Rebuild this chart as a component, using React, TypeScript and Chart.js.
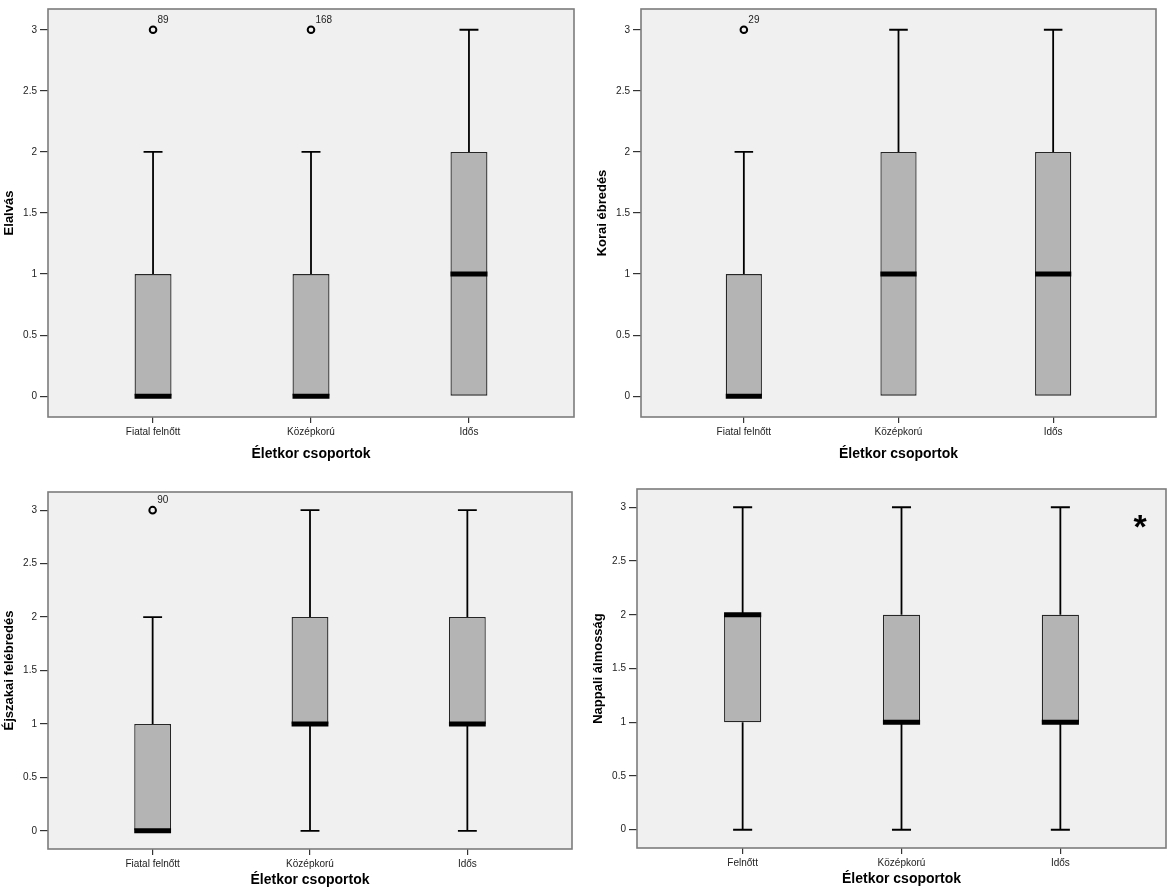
import React, { useEffect, useRef } from "react";
import { Chart, registerables } from "chart.js";

Chart.register(...registerables);

const FONT = "'Liberation Sans', Arial, Helvetica, sans-serif";

// ---------- DATA ----------
const groupsYoung = ["Fiatal felnőtt", "Középkorú", "Idős"];
const groupsAdult = ["Felnőtt", "Középkorú", "Idős"];
const xAxisTitle = "Életkor csoportok";
const yTickValues = [0, 0.5, 1, 1.5, 2, 2.5, 3];

// Elalvás
const elalvasMin = [0, 0, 0];
const elalvasQ1 = [0, 0, 0];
const elalvasMedian = [0, 0, 1];
const elalvasQ3 = [1, 1, 2];
const elalvasMax = [2, 2, 3];
const elalvasOutlierGroup = [0, 1];
const elalvasOutlierValue = [3, 3];
const elalvasOutlierId = ["89", "168"];

// Korai ébredés
const koraiMin = [0, 0, 0];
const koraiQ1 = [0, 0, 0];
const koraiMedian = [0, 1, 1];
const koraiQ3 = [1, 2, 2];
const koraiMax = [2, 3, 3];
const koraiOutlierGroup = [0];
const koraiOutlierValue = [3];
const koraiOutlierId = ["29"];

// Éjszakai felébredés
const ejszakaiMin = [0, 0, 0];
const ejszakaiQ1 = [0, 1, 1];
const ejszakaiMedian = [0, 1, 1];
const ejszakaiQ3 = [1, 2, 2];
const ejszakaiMax = [2, 3, 3];
const ejszakaiOutlierGroup = [0];
const ejszakaiOutlierValue = [3];
const ejszakaiOutlierId = ["90"];

// Nappali álmosság
const nappaliMin = [0, 0, 0];
const nappaliQ1 = [1, 1, 1];
const nappaliMedian = [2, 1, 1];
const nappaliQ3 = [2, 2, 2];
const nappaliMax = [3, 3, 3];
const nappaliOutlierGroup: number[] = [];
const nappaliOutlierValue: number[] = [];
const nappaliOutlierId: string[] = [];

// ---------- STYLE / LAYOUT ----------
const BOX_HALF = 0.117;
const CAP_HALF = 0.06;
const X_PAD = 0.665;
const Y_MIN = -0.17;
const Y_MAX = 3.17;

type Stats = {
  min: number[];
  q1: number[];
  median: number[];
  q3: number[];
  max: number[];
  outGroup: number[];
  outValue: number[];
  outId: string[];
};

type Panel = {
  title: string;
  groups: string[];
  stats: Stats;
  left: number;
  top: number;
  width: number;
  height: number;
  xAxisHeight: number;
  asterisk?: boolean;
};

const panels: Panel[] = [
  {
    title: "Elalvás",
    groups: groupsYoung,
    stats: {
      min: elalvasMin, q1: elalvasQ1, median: elalvasMedian, q3: elalvasQ3, max: elalvasMax,
      outGroup: elalvasOutlierGroup, outValue: elalvasOutlierValue, outId: elalvasOutlierId,
    },
    left: 0, top: 0, width: 580, height: 463, xAxisHeight: 46,
  },
  {
    title: "Korai ébredés",
    groups: groupsYoung,
    stats: {
      min: koraiMin, q1: koraiQ1, median: koraiMedian, q3: koraiQ3, max: koraiMax,
      outGroup: koraiOutlierGroup, outValue: koraiOutlierValue, outId: koraiOutlierId,
    },
    left: 593, top: 0, width: 569, height: 463, xAxisHeight: 46,
  },
  {
    title: "Éjszakai felébredés",
    groups: groupsYoung,
    stats: {
      min: ejszakaiMin, q1: ejszakaiQ1, median: ejszakaiMedian, q3: ejszakaiQ3, max: ejszakaiMax,
      outGroup: ejszakaiOutlierGroup, outValue: ejszakaiOutlierValue, outId: ejszakaiOutlierId,
    },
    left: 0, top: 483, width: 578, height: 406, xAxisHeight: 40,
  },
  {
    title: "Nappali álmosság",
    groups: groupsAdult,
    stats: {
      min: nappaliMin, q1: nappaliQ1, median: nappaliMedian, q3: nappaliQ3, max: nappaliMax,
      outGroup: nappaliOutlierGroup, outValue: nappaliOutlierValue, outId: nappaliOutlierId,
    },
    left: 589, top: 480, width: 581, height: 408, xAxisHeight: 40, asterisk: true,
  },
];

function whiskerPoints(s: Stats) {
  const pts: { x: number; y: number | null }[] = [];
  for (let i = 0; i < s.q1.length; i++) {
    if (s.max[i] > s.q3[i]) {
      pts.push({ x: i, y: s.q3[i] }, { x: i, y: s.max[i] }, { x: i, y: null });
      pts.push({ x: i - CAP_HALF, y: s.max[i] }, { x: i + CAP_HALF, y: s.max[i] }, { x: i, y: null });
    }
    if (s.min[i] < s.q1[i]) {
      pts.push({ x: i, y: s.q1[i] }, { x: i, y: s.min[i] }, { x: i, y: null });
      pts.push({ x: i - CAP_HALF, y: s.min[i] }, { x: i + CAP_HALF, y: s.min[i] }, { x: i, y: null });
    }
  }
  return pts;
}

function medianPoints(s: Stats) {
  const pts: { x: number; y: number | null }[] = [];
  for (let i = 0; i < s.median.length; i++) {
    pts.push({ x: i - BOX_HALF, y: s.median[i] }, { x: i + BOX_HALF, y: s.median[i] }, { x: i, y: null });
  }
  return pts;
}

const framePlugin = {
  id: "panelFrame",
  beforeDraw(chart: any) {
    const { ctx, chartArea: a } = chart;
    ctx.save();
    ctx.fillStyle = "#f0f0f0";
    ctx.fillRect(a.left, a.top, a.right - a.left, a.bottom - a.top);
    ctx.restore();
  },
  afterDraw(chart: any) {
    const { ctx, chartArea: a } = chart;
    ctx.save();
    ctx.strokeStyle = "#7c7c7c";
    ctx.lineWidth = 1.6;
    ctx.strokeRect(a.left, a.top, a.right - a.left, a.bottom - a.top);
    ctx.restore();
  },
};

const outlierLabelPlugin = {
  id: "outlierLabels",
  afterDatasetsDraw(chart: any) {
    const ctx = chart.ctx;
    chart.data.datasets.forEach((ds: any, di: number) => {
      const ids: string[] | undefined = ds.outlierIds;
      if (!ids) return;
      const meta = chart.getDatasetMeta(di);
      ctx.save();
      ctx.font = `10px ${FONT}`;
      ctx.fillStyle = "#222";
      ctx.textAlign = "left";
      ctx.textBaseline = "middle";
      meta.data.forEach((el: any, k: number) => {
        ctx.fillText(ids[k], el.x + 4.5, el.y - 10);
      });
      ctx.restore();
    });
  },
};

const asteriskPlugin = {
  id: "asteriskMark",
  afterDraw(chart: any) {
    const { ctx, chartArea: a } = chart;
    ctx.save();
    ctx.font = `bold 34px ${FONT}`;
    ctx.fillStyle = "#000";
    ctx.textAlign = "center";
    ctx.textBaseline = "alphabetic";
    ctx.fillText("*", a.right - 26, a.top + 49);
    ctx.restore();
  },
};

function buildConfig(p: Panel): any {
  const s = p.stats;
  return {
    type: "bar",
    data: {
      datasets: [
        {
          type: "bar",
          data: p.groups.map((_, i) => ({ x: i, y: [s.q1[i], s.q3[i]] })),
          backgroundColor: "#b4b4b4",
          borderColor: "#262626",
          borderWidth: 1.3,
          borderSkipped: false,
          barPercentage: 2 * BOX_HALF,
          categoryPercentage: 1,
          order: 2,
        },
        {
          type: "line",
          data: whiskerPoints(s),
          borderColor: "#000",
          borderWidth: 1.8,
          borderCapStyle: "butt",
          pointRadius: 0,
          spanGaps: false,
          tension: 0,
          order: 3,
        },
        {
          type: "line",
          data: medianPoints(s),
          borderColor: "#000",
          borderWidth: 5,
          borderCapStyle: "butt",
          pointRadius: 0,
          spanGaps: false,
          tension: 0,
          order: 1,
        },
        {
          type: "scatter",
          data: s.outGroup.map((g, k) => ({ x: g, y: s.outValue[k] })),
          pointRadius: 3.3,
          pointBorderWidth: 2,
          pointBorderColor: "#000",
          pointBackgroundColor: "#f0f0f0",
          order: 0,
          outlierIds: s.outId,
        },
      ],
    },
    options: {
      responsive: false,
      animation: false,
      events: [],
      layout: { padding: { top: 7, right: 4, left: 0, bottom: 0 } },
      plugins: {
        legend: { display: false },
        tooltip: { enabled: false },
      },
      scales: {
        x: {
          type: "linear",
          position: "bottom",
          offset: false,
          min: -X_PAD,
          max: p.groups.length - 1 + X_PAD,
          afterBuildTicks: (scale: any) => {
            scale.ticks = p.groups.map((_, i) => ({ value: i }));
          },
          afterFit: (scale: any) => {
            scale.height = p.xAxisHeight;
          },
          ticks: {
            autoSkip: false,
            maxRotation: 0,
            padding: 3,
            color: "#222",
            font: { family: FONT, size: 10 },
            callback: (v: number) => p.groups[v],
          },
          grid: {
            offset: false,
            drawOnChartArea: false,
            drawTicks: true,
            tickLength: 6,
            color: "#333",
            lineWidth: 1.2,
          },
          border: { display: false },
          title: {
            display: true,
            text: xAxisTitle,
            color: "#000",
            font: { family: FONT, size: 14, weight: "bold" },
            padding: { top: 0, bottom: 0 },
          },
        },
        y: {
          type: "linear",
          min: Y_MIN,
          max: Y_MAX,
          afterBuildTicks: (scale: any) => {
            scale.ticks = yTickValues.map((v) => ({ value: v }));
          },
          afterFit: (scale: any) => {
            scale.width = 48;
          },
          ticks: {
            padding: 3,
            color: "#222",
            font: { family: FONT, size: 10 },
            callback: (v: number) => String(v),
          },
          grid: {
            drawOnChartArea: false,
            drawTicks: true,
            tickLength: 8,
            color: "#333",
            lineWidth: 1.2,
          },
          border: { display: false },
          title: {
            display: true,
            text: p.title,
            color: "#000",
            font: { family: FONT, size: 13, weight: "bold" },
            padding: { top: 2, bottom: 0 },
          },
        },
      },
    },
    plugins: p.asterisk
      ? [framePlugin, outlierLabelPlugin, asteriskPlugin]
      : [framePlugin, outlierLabelPlugin],
  };
}

function BoxPanel({ panel }: { panel: Panel }) {
  const ref = useRef<HTMLCanvasElement | null>(null);
  useEffect(() => {
    if (!ref.current) return;
    const chart = new Chart(ref.current, buildConfig(panel));
    return () => chart.destroy();
  }, [panel]);
  return (
    <canvas
      ref={ref}
      width={panel.width}
      height={panel.height}
      style={{
        position: "absolute",
        left: panel.left,
        top: panel.top,
        width: panel.width,
        height: panel.height,
      }}
    />
  );
}

export default function App() {
  return (
    <div
      style={{
        position: "absolute",
        left: 0,
        top: 0,
        width: 1176,
        height: 892,
        background: "#fff",
        overflow: "hidden",
      }}
    >
      {panels.map((p) => (
        <BoxPanel key={p.title} panel={p} />
      ))}
    </div>
  );
}
